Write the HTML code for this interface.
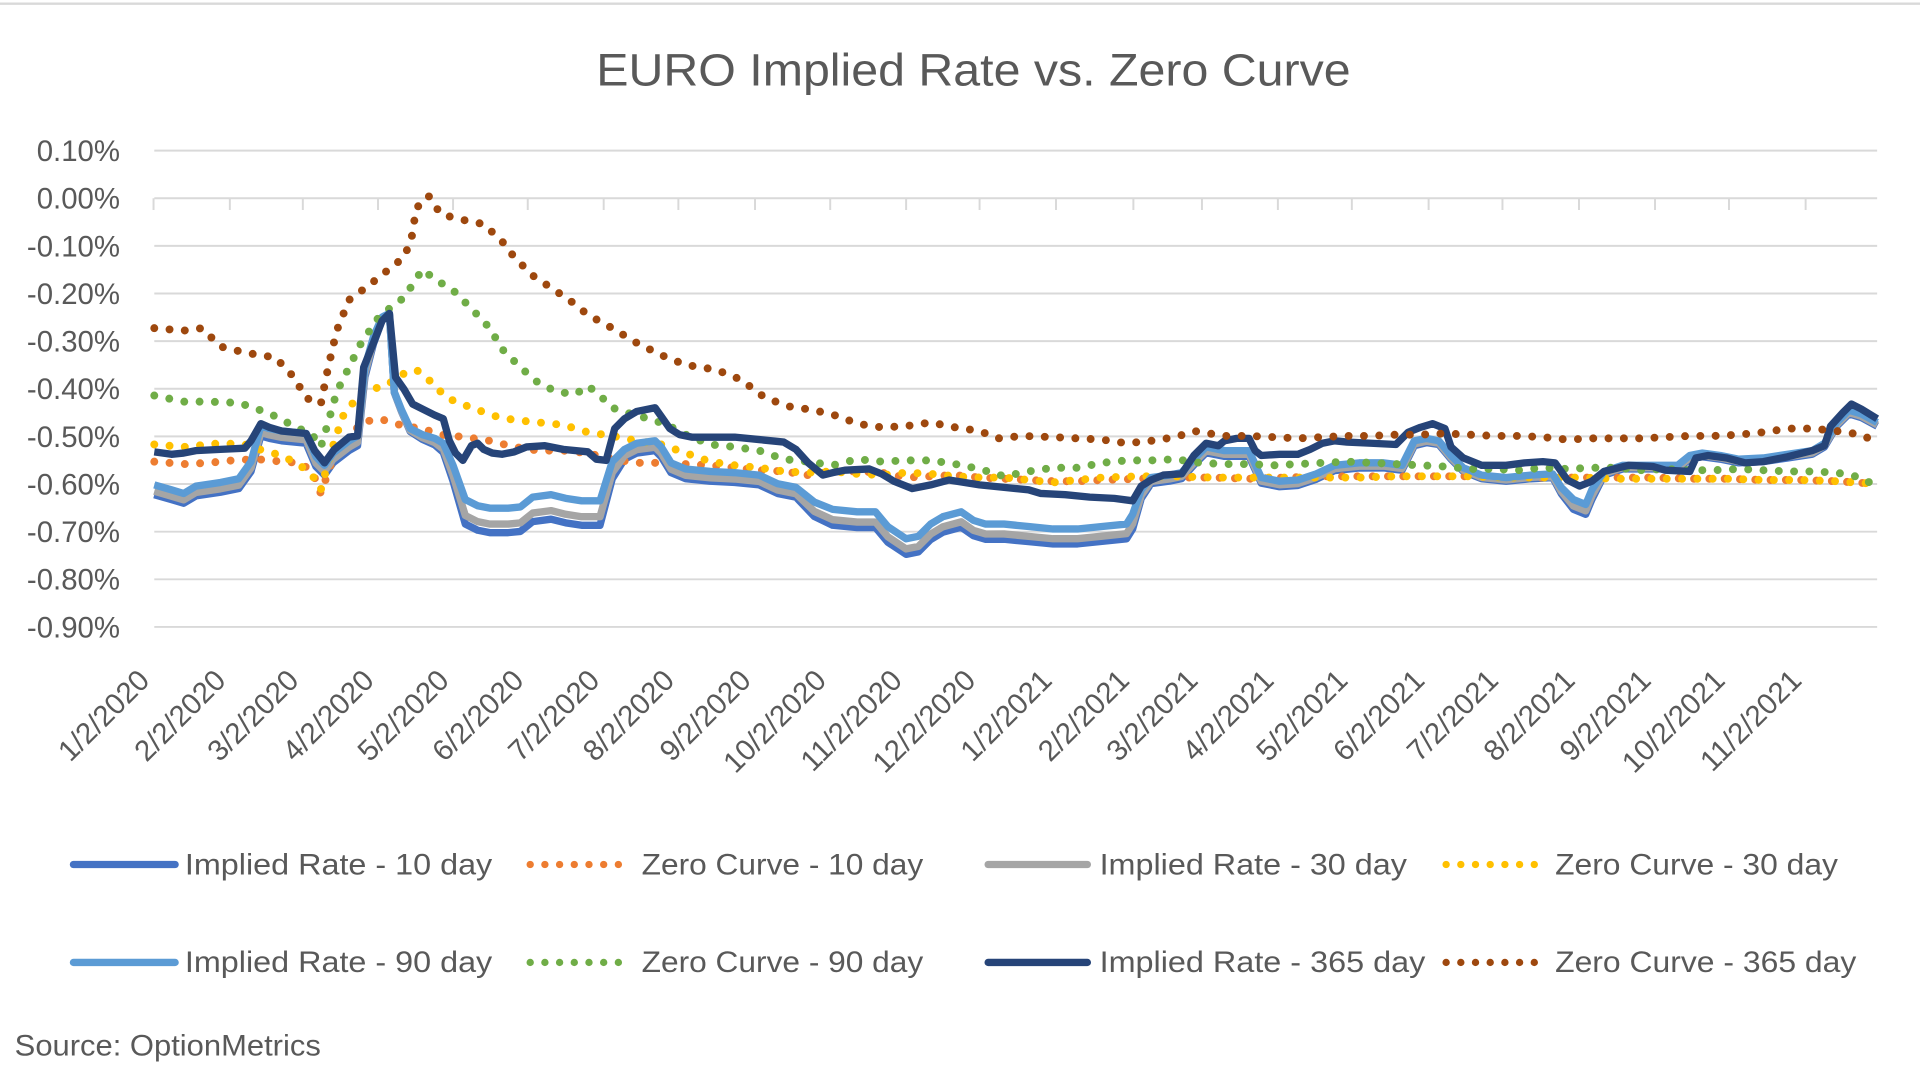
<!DOCTYPE html>
<html><head><meta charset="utf-8"><style>
html,body{margin:0;padding:0;background:#fff;}
svg{display:block;}
text{font-family:"Liberation Sans",sans-serif;fill:#595959;}
</style></head><body>
<svg id="c" width="1920" height="1080" viewBox="0 0 1568 882" xmlns="http://www.w3.org/2000/svg">
<line x1="0" y1="3" x2="1568" y2="3" stroke="#d9d9d9" stroke-width="2"/>
<text x="795" y="70" font-size="37" text-anchor="middle" textLength="616" lengthAdjust="spacingAndGlyphs">EURO Implied Rate vs. Zero Curve</text>
<g id="grid" stroke="#d9d9d9" stroke-width="1.6"></g>
<g id="ylab" font-size="24" text-anchor="end"></g>
<g id="xlab" font-size="24" text-anchor="end"></g>
<g id="series" fill="none" stroke-linejoin="round"></g>
<g font-size="24">
<line x1="60" y1="706" x2="143" y2="706" stroke="#4472c4" stroke-width="6" stroke-linecap="round"/>
<text x="151" y="714" textLength="251" lengthAdjust="spacingAndGlyphs">Implied Rate - 10 day</text>
<line x1="433" y1="706" x2="508" y2="706" stroke="#ed7d31" stroke-width="6" stroke-dasharray="0 12" stroke-linecap="round"/>
<text x="524" y="714" textLength="230" lengthAdjust="spacingAndGlyphs">Zero Curve - 10 day</text>
<line x1="807" y1="706" x2="888" y2="706" stroke="#a5a5a5" stroke-width="6" stroke-linecap="round"/>
<text x="898" y="714" textLength="251" lengthAdjust="spacingAndGlyphs">Implied Rate - 30 day</text>
<line x1="1181" y1="706" x2="1256" y2="706" stroke="#ffc000" stroke-width="6" stroke-dasharray="0 12" stroke-linecap="round"/>
<text x="1270" y="714" textLength="231" lengthAdjust="spacingAndGlyphs">Zero Curve - 30 day</text>
<line x1="60" y1="786" x2="143" y2="786" stroke="#5b9bd5" stroke-width="6" stroke-linecap="round"/>
<text x="151" y="794" textLength="251" lengthAdjust="spacingAndGlyphs">Implied Rate - 90 day</text>
<line x1="433" y1="786" x2="508" y2="786" stroke="#70ad47" stroke-width="6" stroke-dasharray="0 12" stroke-linecap="round"/>
<text x="524" y="794" textLength="230" lengthAdjust="spacingAndGlyphs">Zero Curve - 90 day</text>
<line x1="807" y1="786" x2="888" y2="786" stroke="#264478" stroke-width="6" stroke-linecap="round"/>
<text x="898" y="794" textLength="266" lengthAdjust="spacingAndGlyphs">Implied Rate - 365 day</text>
<line x1="1181" y1="786" x2="1256" y2="786" stroke="#9e480e" stroke-width="6" stroke-dasharray="0 12" stroke-linecap="round"/>
<text x="1270" y="794" textLength="246" lengthAdjust="spacingAndGlyphs">Zero Curve - 365 day</text>
</g>
<text x="12" y="862" font-size="24" textLength="250" lengthAdjust="spacingAndGlyphs">Source: OptionMetrics</text>
</svg>
<script>
var NS="http://www.w3.org/2000/svg";
function el(p,t,a,txt){var e=document.createElementNS(NS,t);for(var k in a)e.setAttribute(k,a[k]);if(txt)e.textContent=txt;p.appendChild(e);return e;}
var grid=document.getElementById('grid'),ylab=document.getElementById('ylab'),xlab=document.getElementById('xlab'),ser=document.getElementById('series');
var labs=["0.10%","0.00%","-0.10%","-0.20%","-0.30%","-0.40%","-0.50%","-0.60%","-0.70%","-0.80%","-0.90%"];
for(var i=0;i<11;i++){var y=123+i*38.9;el(grid,'line',{x1:126,x2:1533,y1:y,y2:y});el(ylab,'text',{x:98,y:y+8.5},labs[i]);}
var ticks=[125.4,187.7,247.3,308.7,370,431,493,554,616.6,678,740,800,862.4,925.6,981.6,1043.6,1104,1166.7,1227,1289.5,1351.6,1412,1474.6];
var xl=["1/2/2020","2/2/2020","3/2/2020","4/2/2020","5/2/2020","6/2/2020","7/2/2020","8/2/2020","9/2/2020","10/2/2020","11/2/2020","12/2/2020","1/2/2021","2/2/2021","3/2/2021","4/2/2021","5/2/2021","6/2/2021","7/2/2021","8/2/2021","9/2/2021","10/2/2021","11/2/2021"];
for(var i=0;i<ticks.length;i++){var t=ticks[i];el(grid,'line',{x1:t,x2:t,y1:161.9,y2:171.5});
 var bx=t-2,by=557;el(xlab,'text',{x:bx,y:by,transform:'rotate(-45 '+bx+' '+by+')'},xl[i]);}
function P(a){var s=[];for(var i=0;i<a.length;i+=2)s.push(a[i]+','+a[i+1]);return s.join(' ');}
var i365=[126,369,140,371,150,370,160,368,180,367,200,366,205,360,213,346,220,349,230,352,250,354,257,368,265,378,273,367,285,357,292,356,297,300,305,280,312,262,318,256,323,308,330,318,337,330,345,334,355,339,362,342,367,360,372,370,378,376,385,364,390,362,395,367,402,370,410,371,420,369,430,365,445,364,460,367,480,369,487,375,495,376,502,350,510,342,520,336,535,333,540,340,547,350,555,355,565,357,580,357,600,357,620,359,640,361,650,367,660,378,672,388,680,386,690,384,710,383,720,387,730,393,745,399,760,396,775,392,800,396,820,398,840,400,850,403,870,404,890,406,910,407,925,409,932,397,940,392,950,388,965,387,975,372,985,362,995,364,1000,360,1010,358,1020,358,1025,368,1030,372,1045,371,1060,371,1070,367,1080,362,1090,360,1100,361,1120,362,1140,363,1150,353,1160,349,1170,346,1180,350,1185,365,1195,374,1210,380,1230,380,1245,378,1260,377,1270,378,1280,392,1290,397,1300,393,1310,385,1330,380,1350,381,1360,384,1380,385,1385,374,1395,372,1410,374,1425,378,1440,377,1460,373,1480,368,1490,364,1495,348,1505,337,1512,330,1520,334,1533,342];
var i90=[126,396,140,400,150,403,160,397,180,394,195,391,205,377,213,348,220,350,230,352,250,354,258,373,265,380,272,370,285,360,292,356,298,300,305,275,312,259,318,256,322,320,328,335,335,350,345,355,355,358,362,362,370,380,380,408,390,413,400,415,415,415,425,414,435,406,450,404,462,407,475,409,490,409,500,377,510,367,520,362,535,360,540,365,548,378,560,383,580,385,600,386,620,388,635,395,650,398,665,410,680,416,700,418,715,418,725,430,740,440,750,438,760,428,770,422,785,418,795,425,805,428,820,428,840,430,860,432,880,432,900,430,920,428,925,420,932,400,940,390,955,388,965,386,975,375,985,365,1000,368,1020,368,1030,390,1045,393,1060,392,1075,387,1090,380,1110,378,1130,378,1145,380,1155,360,1165,358,1175,360,1185,372,1195,382,1210,388,1230,390,1250,388,1268,387,1275,398,1285,408,1295,412,1300,400,1310,385,1325,380,1345,380,1370,380,1380,372,1390,370,1405,372,1420,375,1440,374,1460,371,1480,368,1490,362,1500,345,1510,335,1520,338,1533,345];
var dk=[126,8,300,8,318,0,360,6,380,20,495,20,505,8,650,8,670,13,925,12,935,5,1160,4,1170,3,1270,3,1282,8,1300,8,1310,3,1533,3];
function off(x){for(var i=0;i<dk.length-2;i+=2){if(x>=dk[i]&&x<=dk[i+2]){var f=(x-dk[i])/(dk[i+2]-dk[i]||1);return dk[i+1]+f*(dk[i+3]-dk[i+1]);}}return 3;}
function der(a,m){var r=[];for(var i=0;i<a.length;i+=2){r.push(a[i],a[i+1]+off(a[i])*m);}return r;}
var z365=[126,268,150,270,165,268,180,283,200,288,225,292,240,308,250,325,262,330,268,300,275,270,285,245,300,234,315,222,330,210,336,195,340,170,350,160,360,175,380,180,395,183,410,197,420,210,435,225,450,235,465,245,480,257,500,268,520,280,540,290,560,298,585,302,605,310,625,325,645,332,665,335,685,340,700,346,720,349,740,348,760,345,780,349,800,352,815,358,835,356,860,357,880,358,900,359,920,362,940,360,960,357,975,352,1000,356,1020,356,1040,357,1060,358,1080,357,1100,356,1120,356,1140,355,1160,355,1180,354,1200,355,1220,356,1240,356,1260,357,1280,359,1300,358,1320,358,1340,358,1360,357,1380,356,1400,356,1420,355,1440,353,1460,350,1480,350,1500,352,1520,355,1526,358];
var z90=[126,323,150,328,170,328,195,329,210,334,225,340,240,348,255,355,262,365,268,345,275,320,285,300,295,280,310,258,330,243,345,220,355,228,370,237,385,252,400,268,410,285,425,300,440,313,455,320,470,322,480,315,490,323,500,333,515,338,530,342,545,347,560,355,580,363,600,365,620,368,640,375,660,377,680,380,700,375,720,377,740,376,760,376,780,379,800,383,820,389,840,385,860,382,880,382,900,378,920,376,940,376,960,375,980,378,1000,379,1020,379,1040,380,1060,379,1080,378,1100,377,1120,378,1140,379,1160,380,1180,381,1200,383,1220,383,1240,384,1260,382,1280,383,1300,382,1320,382,1340,384,1360,383,1380,384,1400,384,1420,383,1440,384,1460,385,1480,385,1500,386,1520,390,1530,396];
var z30=[126,363,150,365,180,362,200,363,215,368,230,372,245,380,255,388,262,400,270,370,280,340,295,320,315,315,330,305,340,302,350,310,365,325,385,333,405,340,420,343,440,345,460,347,480,353,500,356,520,360,540,363,560,370,580,377,600,380,620,382,640,385,660,386,680,385,700,387,720,388,740,386,760,387,780,389,800,390,820,390,840,392,860,394,880,392,900,390,930,389,960,389,990,390,1020,390,1050,390,1080,390,1110,390,1140,389,1170,389,1200,389,1230,390,1260,390,1290,390,1320,391,1350,391,1380,391,1410,391,1440,392,1470,392,1500,393,1530,395];
var z10=[126,377,150,379,170,378,190,376,210,375,230,377,245,378,255,385,262,403,270,380,280,365,295,345,310,342,320,345,330,348,345,350,360,355,380,357,400,360,420,365,440,368,460,368,480,370,500,375,520,378,540,378,560,379,580,380,600,382,620,384,640,385,660,388,680,385,700,385,720,386,740,390,760,389,780,388,800,390,820,391,840,392,860,393,880,393,900,392,930,391,960,390,990,390,1020,391,1050,390,1080,389,1110,389,1140,389,1170,389,1200,389,1230,390,1260,390,1290,390,1320,390,1350,390,1380,391,1410,391,1440,392,1470,392,1500,393,1530,395];
function line(a,c,w){el(ser,'polyline',{points:P(a),stroke:c,'stroke-width':w});}
function dots(a,c){el(ser,'polyline',{points:P(a),stroke:c,'stroke-width':6.5,'stroke-dasharray':'0 12.5','stroke-linecap':'round'});}
line(der(i90,1),'#4472c4',6);
dots(z10,'#ed7d31');
line(der(i90,0.65),'#a5a5a5',6);
dots(z30,'#ffc000');
line(i90,'#5b9bd5',6);
dots(z90,'#70ad47');
line(i365,'#264478',6);
dots(z365,'#9e480e');
</script>
</body></html>
